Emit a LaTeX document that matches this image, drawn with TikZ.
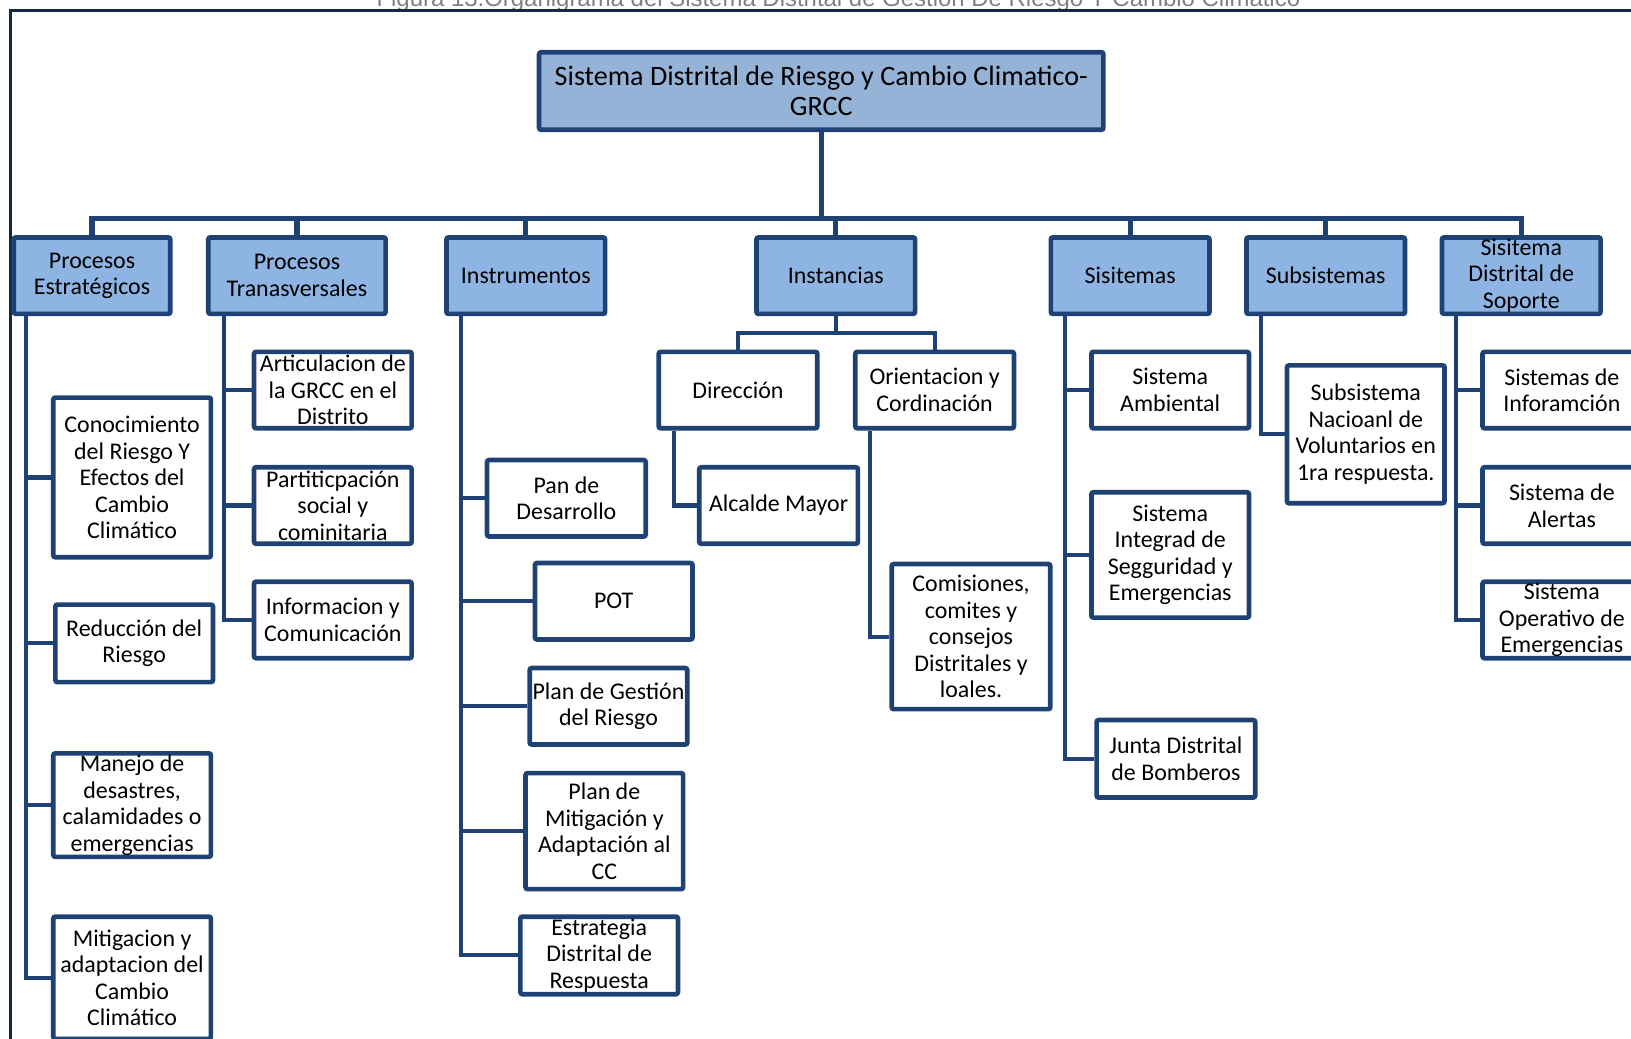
\documentclass[tikz,border=0pt]{standalone}
\usepackage{fontspec}
\setmainfont{Carlito}
\newfontfamily\capfont{Liberation Sans}
\usepackage{graphicx}
\definecolor{navy}{RGB}{30,66,115}
\definecolor{framecol}{RGB}{22,40,66}
\definecolor{topblue}{RGB}{149,179,215}
\definecolor{headblue}{RGB}{141,180,226}
\definecolor{capgray}{RGB}{128,128,128}
\tikzset{
  box/.style={draw=navy, line width=4.5pt, fill=white, align=center, inner sep=0pt,
    rounded corners=2pt, font=\fontsize{23}{25.5}\selectfont},
  headbox/.style={box, fill=headblue},
  topbox/.style={box, fill=topblue, font=\fontsize{27}{29}\selectfont},
  conn/.style={draw=navy, line width=4pt},
  busline/.style={draw=navy, line width=5pt},
  frameline/.style={draw=framecol, line width=3pt},
}
\newcommand{\bx}[7]{\node[#6, minimum width={(#4)-(#2)-4.5}, minimum height={(#5)-(#3)-4.5}] (#1) at ({((#2)+(#4))/2},{((#3)+(#5))/2}) {#7};}
\begin{document}
\begin{tikzpicture}[x=1pt,y=-1pt]
\useasboundingbox (0,0) rectangle (1568,998);
% caption (cut at top)
\node[anchor=base, inner sep=0pt, text=capgray] (cap) at (806,6.5) {\resizebox{888pt}{!}{\capfont Figura 13.Organigrama del Sistema Distrital de Gestión De Riesgo Y Cambio Climático}};
% frame
\coordinate (fTL) at (10,10);
\coordinate (fTR) at (1580,10);
\coordinate (fBL) at (10,1010);
\draw[frameline] (fBL) -- (fTL) -- (fTR);

% top
\bx{top}{516}{48}{1063}{127}{topbox}{Sistema Distrital de Riesgo y Cambio Climatico-\\GRCC}

% level 2
\bx{pe}{11}{226}{166}{304}{headbox}{Procesos\\Estratégicos}
\bx{pt}{198}{226}{373}{304}{headbox}{Procesos\\Tranasversales}
\bx{ins}{427}{226}{584}{304}{headbox}{Instrumentos}
\bx{ist}{725}{226}{882}{304}{headbox}{Instancias}
\bx{sis}{1008}{226}{1165}{304}{headbox}{Sisitemas}
\bx{sub}{1196}{226}{1353}{304}{headbox}{Subsistemas}
\bx{sop}{1384}{226}{1541}{304}{headbox}{Sisitema\\Distrital de\\Soporte}

% Procesos Estrategicos children
\bx{pe1}{49}{380}{205}{538}{box}{Conocimiento\\del Riesgo Y\\Efectos del\\Cambio\\Climático}
\bx{pe2}{51}{579}{207}{658}{box}{Reducción del\\Riesgo}
\bx{pe3}{49}{722}{205}{826}{box}{Manejo de\\desastres,\\calamidades o\\emergencias}
\bx{pe4}{49}{879}{205}{1001}{box}{Mitigacion y\\adaptacion del\\Cambio\\Climático}

% Procesos Transversales children
\bx{pt1}{242}{336}{398}{414}{box}{Articulacion de\\la GRCC en el\\Distrito}
\bx{pt2}{242}{447}{398}{525}{box}{Partiticpación\\social y\\cominitaria}
\bx{pt3}{242}{557}{398}{635}{box}{Informacion y\\Comunicación}

% Instrumentos children
\bx{in1}{466}{440}{623}{518}{box}{Pan de\\Desarrollo}
\bx{in2}{512}{539}{668}{617}{box}{POT}
\bx{in3}{507}{640}{663}{718}{box}{Plan de Gestión\\del Riesgo}
\bx{in4}{503}{741}{659}{857}{box}{Plan de\\Mitigación y\\Adaptación al\\CC}
\bx{in5}{498}{879}{654}{958}{box}{Estrategia\\Distrital de\\Respuesta}

% Instancias children
\bx{dir}{631}{336}{788}{414}{box}{Dirección}
\bx{ori}{820}{336}{977}{414}{box}{Orientacion y\\Cordinación}
\bx{alc}{670}{447}{827}{525}{box}{Alcalde Mayor}
\bx{com}{855}{540}{1012}{684}{box}{Comisiones,\\comites y\\consejos\\Distritales y\\loales.}

% Sisitemas children
\bx{si1}{1047}{336}{1203}{414}{box}{Sistema\\Ambiental}
\bx{si2}{1047}{471}{1203}{596}{box}{Sistema\\Integrad de\\Segguridad y\\Emergencias}
\bx{si3}{1052}{690}{1209}{769}{box}{Junta Distrital\\de Bomberos}

% Subsistemas child
\bx{su1}{1235}{349}{1391}{486}{box}{Subsistema\\Nacioanl de\\Voluntarios en\\1ra respuesta.}

% Soporte children
\bx{so1}{1423}{336}{1580}{414}{box}{Sistemas de\\Inforamción}
\bx{so2}{1423}{447}{1580}{525}{box}{Sistema de\\Alertas}
\bx{so3}{1423}{557}{1580}{635}{box}{Sistema\\Operativo de\\Emergencias}

% spine coordinates
\coordinate (bus) at (0,210);
\coordinate (ibus) at (0,320);
\coordinate (xpe) at (25,0);
\coordinate (xpt) at (215,0);
\coordinate (xin) at (443,0);
\coordinate (xdir) at (648,0);
\coordinate (xori) at (836,0);
\coordinate (xsi) at (1024,0);
\coordinate (xsu) at (1212,0);
\coordinate (xso) at (1400,0);

\begin{scope}[on background layer/.style={}]
% top to level 2
\foreach \n in {pe,pt,ins,ist,sis,sub,sop}{
  \draw[busline] (top.south) -- (top.south |- bus) -| (\n.north);
}
% level 2 to children
\foreach \n in {pe1,pe2,pe3,pe4}{ \draw[conn] (pe.south -| xpe) |- (\n.west); }
\foreach \n in {pt1,pt2,pt3}{ \draw[conn] (pt.south -| xpt) |- (\n.west); }
\foreach \n in {in1,in2,in3,in4,in5}{ \draw[conn] (ins.south -| xin) |- (\n.west); }
\foreach \n in {dir,ori}{ \draw[conn] (ist.south) -- (ist.south |- ibus) -| (\n.north); }
\draw[conn] (dir.south -| xdir) |- (alc.west);
\draw[conn] (ori.south -| xori) |- (com.west);
\foreach \n in {si1,si2,si3}{ \draw[conn] (sis.south -| xsi) |- (\n.west); }
\draw[conn] (sub.south -| xsu) |- (su1.west);
\foreach \n in {so1,so2,so3}{ \draw[conn] (sop.south -| xso) |- (\n.west); }
\end{scope}
\end{tikzpicture}
\end{document}
